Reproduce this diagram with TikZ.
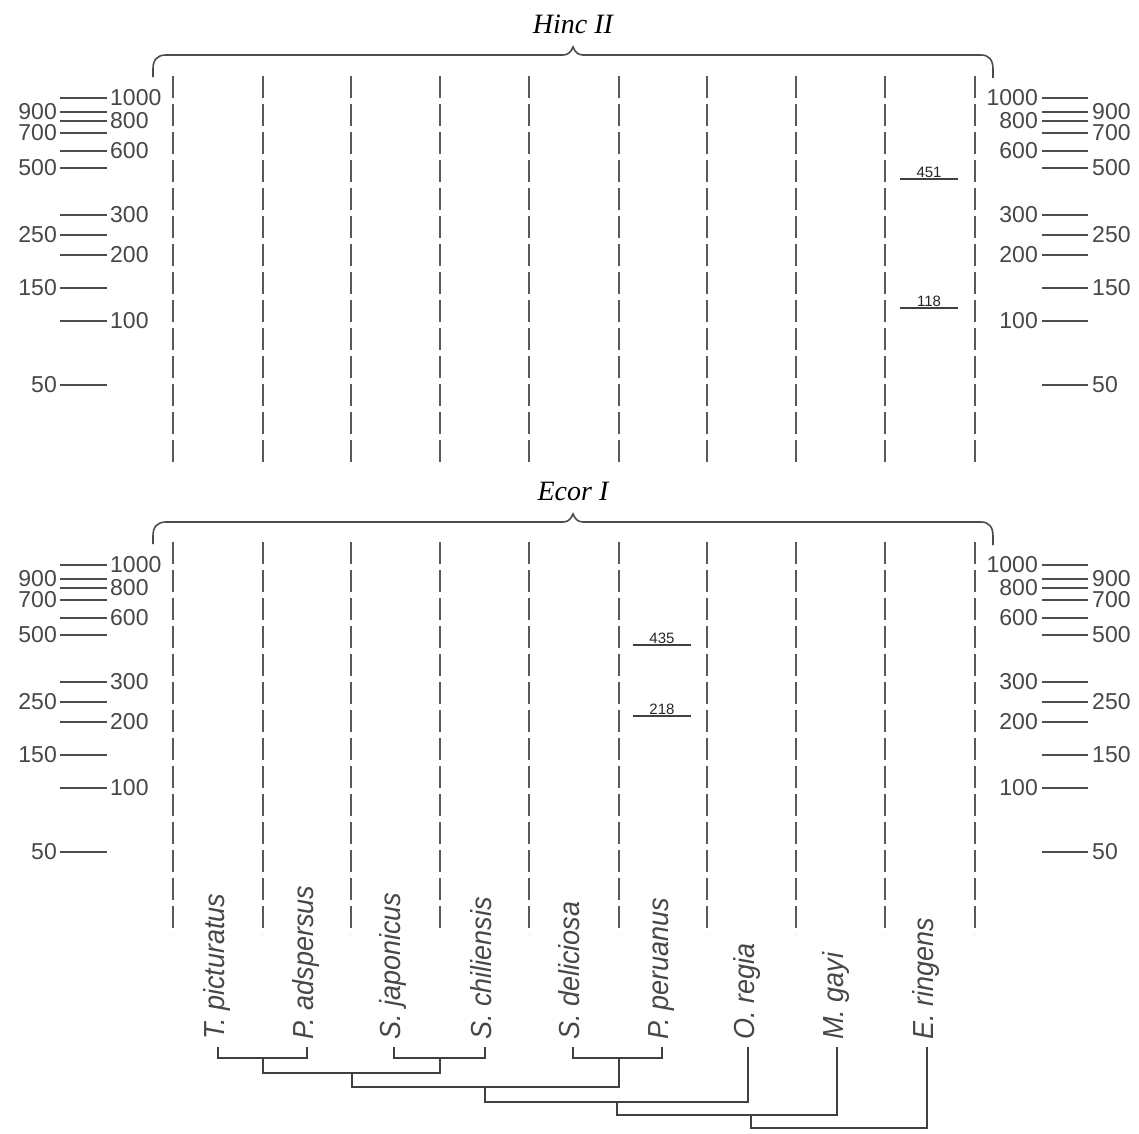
\documentclass[tikz,border=0pt]{standalone}
\usepackage{fontspec}
\setmainfont{Liberation Serif}
\newfontfamily\lsans{Liberation Sans}
\begin{document}
\begin{tikzpicture}[x=1pt,y=-1pt,
  lane/.style={draw=black!65, line width=1.6pt, dash pattern=on 22pt off 6pt},
  tick/.style={draw=black!70, line width=1.8pt},
  band/.style={draw=black!75, line width=1.6pt},
  tree/.style={draw=black!75, line width=1.6pt},
  brace/.style={draw=black!70, line width=1.6pt},
  num/.style={font=\lsans\fontsize{23}{23}\selectfont, text=black!72, inner sep=0pt},
  bandlab/.style={font=\lsans\fontsize{15}{15}\selectfont, text=black!85, inner sep=0pt, anchor=base},
  sp/.style={font=\lsans\itshape\fontsize{29}{29}\selectfont, text=black!72, rotate=90, anchor=base west, inner sep=0pt},
  title/.style={font=\itshape\fontsize{28}{28}\selectfont, inner sep=0pt}]
\path[use as bounding box, fill=white] (0,0) rectangle (1139,1133);

% titles and braces
\node[title] (hinc) at (573,24) {Hinc II};
\node[title] (ecor) at (573,491) {Ecor I};
\foreach \o in {0,467}{
  \draw[brace] (153,77+\o) -- (153,69+\o) .. controls (153,60+\o) and (157,55+\o) .. (166,55+\o)
    -- (563,55+\o) .. controls (568,55+\o) and (571,52+\o) .. (573,47+\o)
    .. controls (575,52+\o) and (578,55+\o) .. (583,55+\o)
    -- (981,55+\o) .. controls (989,55+\o) and (993,60+\o) .. (993,69+\o) -- (993,78+\o);
}

% lanes
\foreach \x in {173,263,351,440,529,619,707,796,885,975}{
  \draw[lane] (\x,76) -- (\x,466);
  \draw[lane] (\x,542) -- (\x,934);
}

% size ladders
\foreach \o in {0,467}{
  \foreach \y/\v/\s in {98/1000/1,112/900/0,121/800/1,133/700/0,151/600/1,168/500/0,
                        215/300/1,235/250/0,255/200/1,288/150/0,321/100/1,385/50/0}{
    \draw[tick] (60,\y+\o) -- (107,\y+\o);
    \draw[tick] (1042,\y+\o) -- (1088,\y+\o);
    \ifnum\s=0
      \node[num,anchor=east] (L\o-\v) at (57,\y+\o) {\v};
      \node[num,anchor=west] (R\o-\v) at (1092,\y+\o) {\v};
    \else
      \node[num,anchor=west] (L\o-\v) at (110,\y+\o) {\v};
      \node[num,anchor=east] (R\o-\v) at (1038,\y+\o) {\v};
    \fi
  }
}

% bands
\draw[band] (900,179) -- (958,179);
\node[bandlab] (b451) at (929,177) {451};
\draw[band] (900,308) -- (958,308);
\node[bandlab] (b118) at (929,306) {118};
\draw[band] (633,645) -- (691,645);
\node[bandlab] (b435) at (662,643) {435};
\draw[band] (633,716) -- (691,716);
\node[bandlab] (b218) at (662,714) {218};

% species labels
\foreach \x/\n/\t in {218/1/T.\ picturatus,307/2/P.\ adspersus,394/3/S.\ japonicus,
                      485/4/S.\ chiliensis,573/5/S.\ deliciosa,662/6/P.\ peruanus,
                      748/7/O.\ regia,837/8/M.\ gayi,927/9/E.\ ringens}{
  \node[sp] (s\n) at (\x+6,1040) {\scalebox{0.93}[1]{\t}};
  \coordinate (l\n) at (\x,1047);
}

% dendrogram
\coordinate (a) at (263,1058);
\coordinate (b) at (440,1058);
\coordinate (c) at (619,1058);
\coordinate (d) at (352,1073);
\coordinate (e) at (485,1087);
\coordinate (f) at (617,1102);
\coordinate (g) at (751,1115);
\coordinate (h) at (839,1128);
\draw[tree] (l1) |- (a) -| (l2);
\draw[tree] (l3) |- (b) -| (l4);
\draw[tree] (l5) |- (c) -| (l6);
\draw[tree] (a) |- (d) -| (b);
\draw[tree] (d) |- (e) -| (c);
\draw[tree] (e) |- (f) -| (l7);
\draw[tree] (f) |- (g) -| (l8);
\draw[tree] (g) |- (h) -| (l9);
\end{tikzpicture}
\end{document}
